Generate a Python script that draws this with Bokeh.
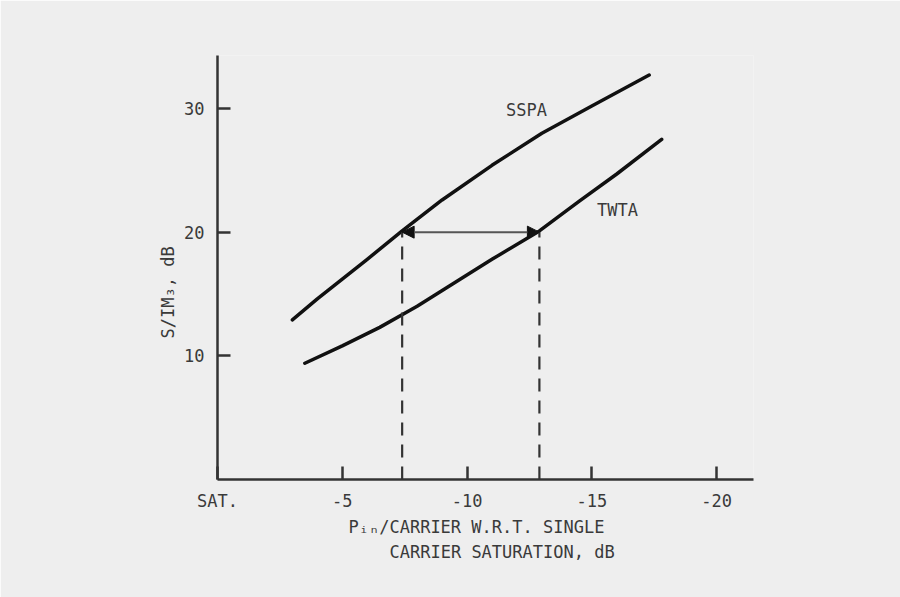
from bokeh.plotting import figure
from bokeh.models import Range1d, FixedTicker, Label, Arrow, NormalHead, Title
from bokeh.embed import file_html
from bokeh.resources import INLINE

# ---- data ----
sspa_x = [-3.0, -4.0, -5.0, -6.0, -7.4, -9.0, -11.0, -13.0, -15.0, -17.3]
sspa_y = [12.9, 14.6, 16.2, 17.8, 20.1, 22.6, 25.4, 28.0, 30.2, 32.7]
twta_x = [-3.5, -5.0, -6.5, -8.0, -9.5, -11.0, -12.9, -14.5, -16.0, -17.8]
twta_y = [9.4, 10.8, 12.3, 14.0, 15.9, 17.8, 20.1, 22.5, 24.7, 27.5]
marker_x = [-7.4, -12.9]      # dashed drop lines
marker_level = 20             # S/IM3 level compared
x_ticks = [0, -5, -10, -15, -20]
x_tick_labels = ["SAT.", "-5", "-10", "-15", "-20"]
y_ticks = [10, 20, 30]

BG = "#eeeeee"
INK = "#111111"
TXT = "#3a3a3a"
FONT = "DejaVu Sans Mono"

p = figure(width=900, height=597, output_backend="svg", toolbar_location=None,
           x_range=Range1d(0, -21.48), y_range=Range1d(0, 34.28),
           min_border_left=217, min_border_right=147,
           min_border_top=55, min_border_bottom=118)
p.background_fill_color = BG
p.border_fill_color = BG
p.outline_line_color = None
p.grid.visible = False

for ax in (p.xaxis[0], p.yaxis[0]):
    ax.axis_line_color = "#333333"
    ax.axis_line_width = 2.5
    ax.major_tick_line_color = "#333333"
    ax.major_tick_line_width = 2.5
    ax.major_tick_in = 13
    ax.major_tick_out = 0
    ax.minor_tick_in = 0
    ax.minor_tick_out = 0
    ax.major_label_text_font = FONT
    ax.major_label_text_font_size = "17px"
    ax.major_label_text_color = TXT

p.xaxis.ticker = FixedTicker(ticks=x_ticks)
p.xaxis.major_label_overrides = {t: l for t, l in zip(x_ticks, x_tick_labels)}
p.xaxis.major_label_standoff = 11
p.yaxis.ticker = FixedTicker(ticks=y_ticks)
p.yaxis.major_label_standoff = 13

# curves
p.line(sspa_x, sspa_y, line_color=INK, line_width=3.5, line_cap="round", line_join="round")
p.line(twta_x, twta_y, line_color=INK, line_width=3.5, line_cap="round", line_join="round")

# dashed drop lines
p.segment(x0=marker_x, y0=[0] * len(marker_x), x1=marker_x, y1=[marker_level] * len(marker_x),
          line_color="#333333", line_width=2.2, line_dash="13 9")

# double arrow
p.add_layout(Arrow(x_start=marker_x[0], y_start=marker_level, x_end=marker_x[1], y_end=marker_level,
                   line_color="#555555", line_width=2,
                   start=NormalHead(size=12, fill_color="#111111", line_color="#111111"),
                   end=NormalHead(size=12, fill_color="#111111", line_color="#111111")))

# curve labels
p.add_layout(Label(x=-12.38, y=29.9, text="SSPA", text_font=FONT, text_font_size="17px",
                   text_color=TXT, text_align="center", text_baseline="middle"))
p.add_layout(Label(x=-16.03, y=21.75, text="TWTA", text_font=FONT, text_font_size="17px",
                   text_color=TXT, text_align="center", text_baseline="middle"))

# axis titles as side-panel titles
def ttl(text, offset, standoff):
    return Title(text=text, align="left", offset=offset, standoff=standoff,
                 text_font=FONT, text_font_size="17px", text_font_style="normal",
                 text_color=TXT)

p.add_layout(ttl("P\u1d62\u2099/CARRIER W.R.T. SINGLE", 131, 2), "below")
p.add_layout(ttl("CARRIER SATURATION, dB", 172, 5), "below")
p.add_layout(ttl("S/IM\u2083, dB", 141, 7), "left")

open("out.html", "w").write(file_html(p, INLINE))
